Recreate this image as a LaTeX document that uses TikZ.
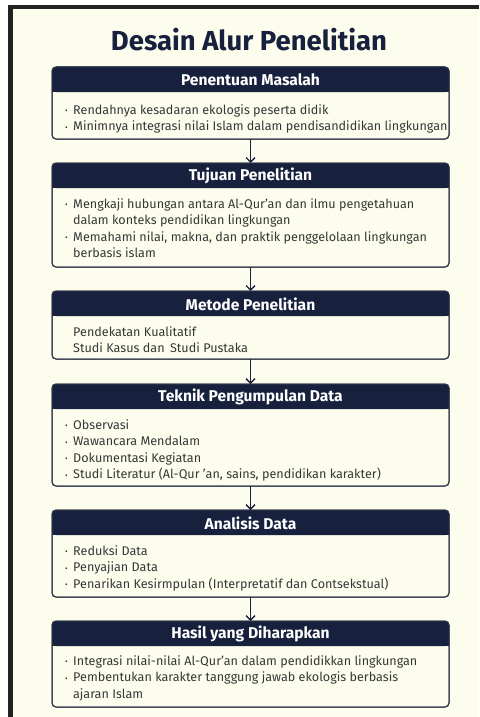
\documentclass[tikz,border=0pt]{standalone}
\usepackage{fontspec}
\setmainfont{Fira Sans}
\usetikzlibrary{arrows.meta}
\definecolor{navy}{HTML}{17213D}
\definecolor{cream}{HTML}{FDFDEE}
\definecolor{framec}{HTML}{222222}
\definecolor{bodyc}{HTML}{363636}
\definecolor{edgec}{HTML}{2E3448}
\newcommand{\bul}{\makebox[8pt][l]{\fontsize{8}{8}\selectfont\raisebox{0.5pt}{•}}}
\newcommand{\ind}{\hspace*{8pt}}
\begin{document}
\begin{tikzpicture}[x=1pt,y=-1pt,
  box/.style={draw=edgec, line width=1pt, fill=cream, rounded corners=4pt, minimum width=397pt, inner sep=0pt, outer sep=0pt},
  hdrtext/.style={text=white, font=\fontsize{15.6}{17}\selectfont\bfseries, inner sep=0pt},
  bodytext/.style={text=bodyc, font=\fontsize{12.6}{16.5}\selectfont, align=left, inner sep=0pt, anchor=north west},
  arr/.style={draw=navy, line width=1.4pt, -{Straight Barb[length=4.5pt,width=9pt,line width=1.4pt]}},
  titletext/.style={text=navy, font=\fontsize{27.5}{32}\selectfont\bfseries, inner sep=0pt}
]
\useasboundingbox (0,0) rectangle (479,717);
\fill[white] (0,0) rectangle (479,717);
\fill[framec] (8,5) rectangle (479,717);
\fill[cream] (13,9) rectangle (479,717);

\node[titletext] (title) at (249,40) {Desain Alur Penelitian};

\node[box, minimum height=72pt] (b1) at (250.5,103) {};
\node[box, minimum height=104pt] (b2) at (250.5,215) {};
\node[box, minimum height=68pt] (b3) at (250.5,325) {};
\node[box, minimum height=102pt] (b4) at (250.5,435) {};
\node[box, minimum height=87pt] (b5) at (250.5,553.5) {};
\node[box, minimum height=86pt] (b6) at (250.5,664) {};

\foreach \b in {b1,b2,b3,b4,b5,b6}{
  \fill[navy, rounded corners=4pt] (\b.north west) rectangle ([yshift=-25pt]\b.north east);
  \fill[navy] ([yshift=-12pt]\b.north west) rectangle ([yshift=-25pt]\b.north east);
  \draw[edgec, line width=1pt, rounded corners=4pt] (\b.north west) rectangle (\b.south east);
}

\node[hdrtext] (h1) at ([yshift=-13pt]b1.north) {Penentuan Masalah};
\node[hdrtext] (h2) at ([yshift=-13pt]b2.north) {Tujuan Penelitian};
\node[hdrtext] (h3) at ([yshift=-13pt]b3.north) {Metode Penelitian};
\node[hdrtext] (h4) at ([yshift=-13pt]b4.north) {Teknik Pengumpulan Data};
\node[hdrtext] (h5) at ([yshift=-13pt]b5.north) {Analisis Data};
\node[hdrtext] (h6) at ([yshift=-13pt]b6.north) {Hasil yang Diharapkan};

\node[bodytext] (t1) at ([xshift=13pt,yshift=-37pt]b1.north west) {\bul Rendahnya kesadaran ekologis peserta didik\\ \bul Minimnya integrasi nilai Islam dalam pendisandidikan lingkungan};
\node[bodytext] (t2) at ([xshift=13pt,yshift=-35pt]b2.north west) {\bul Mengkaji hubungan antara Al-Qur’an dan ilmu pengetahuan\\ \ind dalam konteks pendidikan lingkungan\\ \bul Memahami nilai, makna, dan praktik penggelolaan lingkungan\\ \ind berbasis islam};
\node[bodytext] (t3) at ([xshift=21pt,yshift=-35pt]b3.north west) {Pendekatan Kualitatif\\ Studi Kasus dan\, Studi Pustaka};
\node[bodytext] (t4) at ([xshift=13pt,yshift=-35pt]b4.north west) {\bul Observasi\\ \bul Wawancara Mendalam\\ \bul Dokumentasi Kegiatan\\ \bul Studi Literatur (Al-Qur ’an, sains, pendidikan karakter)};
\node[bodytext] (t5) at ([xshift=13pt,yshift=-35pt]b5.north west) {\bul Reduksi Data\\ \bul Penyajian Data\\ \bul Penarikan Kesirmpulan (Interpretatif dan Contsekstual)};
\node[bodytext] (t6) at ([xshift=13pt,yshift=-34pt]b6.north west) {\bul Integrasi nilai-nilai Al-Qur’an dalam pendidikkan lingkungan\\ \bul Pembentukan karakter tanggung jawab ekologis berbasis\\ \ind ajaran Islam};

\draw[arr] (b1.south) -- (b2.north);
\draw[arr] (b2.south) -- (b3.north);
\draw[arr] (b3.south) -- (b4.north);
\draw[arr] (b4.south) -- (b5.north);
\draw[arr] (b5.south) -- (b6.north);
\end{tikzpicture}
\end{document}
